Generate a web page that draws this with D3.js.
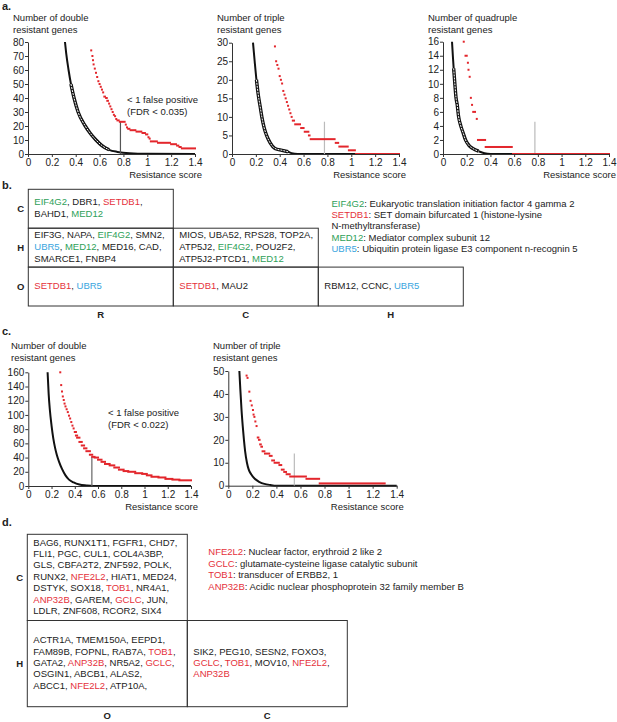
<!DOCTYPE html>
<html>
<head>
<meta charset="utf-8">
<script src="https://cdn.jsdelivr.net/npm/d3@7"></script>
<style>
  body { margin: 0; background: #fff; }
  svg { font-family: "Liberation Sans", Arial, sans-serif; }
</style>
</head>
<body>
<svg width="617" height="722"></svg>
<script>
// ---- data ----
const xTicks = [0, 0.2, 0.4, 0.6, 0.8, 1, 1.2, 1.4];
const xTickLabels = ["0", "0.2", "0.4", "0.6", "0.8", "1", "1.2", "1.4"];

const yTicksA1 = [0, 10, 20, 30, 40, 50, 60, 70, 80];
const yTicksA2 = [0, 5, 10, 15, 20, 25, 30];
const yTicksA3 = [0, 2, 4, 6, 8, 10, 12, 14, 16];
const yTicksC1 = [0, 20, 40, 60, 80, 100, 120, 140, 160];
const yTicksC2 = [0, 10, 20, 30, 40, 50];

// observed genes: [score from, score to, count]
const observedA1 = [
  [0.53, 0.53, 74], [0.54, 0.54, 70], [0.545, 0.545, 67], [0.55, 0.55, 64], [0.56, 0.56, 61],
  [0.57, 0.57, 58], [0.58, 0.58, 55], [0.59, 0.59, 52], [0.6, 0.6, 50], [0.61, 0.61, 48],
  [0.62, 0.62, 46], [0.63, 0.63, 44], [0.64, 0.645, 41], [0.655, 0.66, 40], [0.665, 0.67, 38],
  [0.68, 0.68, 36], [0.69, 0.69, 34], [0.7, 0.7, 32], [0.71, 0.71, 30], [0.72, 0.72, 28],
  [0.73, 0.73, 27], [0.74, 0.74, 25], [0.75, 0.76, 24], [0.77, 0.81, 23], [0.82, 0.82, 21],
  [0.83, 0.83, 19], [0.84, 0.85, 18], [0.86, 0.9, 17], [0.91, 0.95, 16], [0.96, 0.98, 15],
  [0.99, 1.0, 14], [1.01, 1.01, 12], [1.02, 1.02, 11], [1.03, 1.08, 9], [1.09, 1.19, 8],
  [1.2, 1.24, 7], [1.25, 1.26, 6], [1.27, 1.28, 5], [1.29, 1.4, 4]
];
const observedA2 = [
  [0.36, 0.36, 29], [0.37, 0.37, 25], [0.38, 0.38, 24], [0.39, 0.39, 23], [0.4, 0.4, 21],
  [0.41, 0.41, 20], [0.42, 0.42, 19], [0.43, 0.43, 17], [0.44, 0.44, 16], [0.45, 0.45, 15],
  [0.46, 0.46, 14], [0.47, 0.47, 13], [0.48, 0.48, 12], [0.49, 0.49, 11], [0.5, 0.5, 10],
  [0.51, 0.52, 9], [0.53, 0.57, 8], [0.58, 0.6, 7], [0.61, 0.64, 6], [0.645, 0.65, 5],
  [0.66, 0.86, 4], [0.87, 0.89, 3], [0.9, 0.97, 2], [0.98, 1.03, 1], [1.04, 1.4, 0]
];
const observedA3 = [
  [0.175, 0.175, 16], [0.19, 0.2, 14], [0.21, 0.21, 13], [0.215, 0.215, 12], [0.225, 0.225, 11],
  [0.235, 0.235, 8], [0.245, 0.245, 7], [0.255, 0.27, 6], [0.285, 0.285, 5], [0.295, 0.355, 2],
  [0.36, 0.58, 1], [0.59, 1.4, 0]
];
const observedC1 = [
  [0.275, 0.275, 160], [0.283, 0.283, 142], [0.29, 0.29, 133], [0.297, 0.297, 126], [0.305, 0.305, 121],
  [0.312, 0.312, 116], [0.32, 0.32, 112], [0.33, 0.33, 108], [0.34, 0.34, 104], [0.35, 0.35, 99],
  [0.36, 0.36, 95], [0.37, 0.37, 90], [0.38, 0.38, 85], [0.39, 0.39, 81], [0.4, 0.41, 76],
  [0.41, 0.42, 71], [0.42, 0.44, 68], [0.44, 0.46, 62], [0.46, 0.48, 57], [0.48, 0.5, 53],
  [0.5, 0.53, 49], [0.53, 0.55, 44], [0.55, 0.57, 41], [0.57, 0.6, 40], [0.6, 0.63, 37],
  [0.63, 0.66, 34], [0.66, 0.7, 31], [0.7, 0.74, 29], [0.74, 0.78, 26], [0.78, 0.82, 23],
  [0.82, 0.86, 21], [0.86, 0.92, 20], [0.92, 0.98, 18], [0.98, 1.02, 17], [1.02, 1.06, 15],
  [1.06, 1.12, 13], [1.12, 1.18, 12], [1.18, 1.24, 10], [1.24, 1.3, 9], [1.3, 1.4, 8]
];
const observedC2 = [
  [0.152, 0.152, 48], [0.16, 0.16, 47], [0.175, 0.175, 41], [0.185, 0.185, 37], [0.195, 0.195, 35],
  [0.205, 0.205, 33], [0.21, 0.21, 31], [0.217, 0.217, 30], [0.225, 0.225, 28], [0.235, 0.235, 26],
  [0.245, 0.25, 21], [0.255, 0.26, 20], [0.265, 0.27, 18], [0.275, 0.28, 17], [0.285, 0.3, 15],
  [0.305, 0.34, 14], [0.345, 0.36, 13], [0.365, 0.38, 11], [0.385, 0.42, 10], [0.425, 0.44, 9],
  [0.445, 0.46, 7], [0.465, 0.48, 6], [0.485, 0.51, 5], [0.515, 0.645, 4], [0.65, 0.755, 3],
  [0.76, 1.3, 1]
];

// permuted (null) curves: [score, count]
const nullA1 = [[0.31, 80], [0.32, 72], [0.34, 60], [0.36, 50], [0.386, 40], [0.42, 30], [0.48, 20],
  [0.52, 15], [0.57, 10], [0.62, 6], [0.68, 3], [0.75, 1.5], [0.85, 0.5], [1.0, 0.1], [1.4, 0]];
const nullA2 = [[0.176, 30], [0.19, 25], [0.205, 20], [0.22, 16], [0.235, 13], [0.25, 10], [0.27, 7],
  [0.29, 5], [0.32, 3], [0.36, 1.5], [0.42, 1], [0.47, 0.6], [0.5, 0.2], [0.55, 0], [1.4, 0]];
const nullA3 = [[0.076, 16], [0.083, 14], [0.09, 12.2], [0.1, 10], [0.11, 8], [0.12, 7], [0.13, 5.5],
  [0.15, 4], [0.17, 3], [0.19, 2], [0.22, 1.2], [0.25, 0.8], [0.3, 0.4], [0.35, 0.1], [0.4, 0], [1.4, 0]];
const nullC1 = [[0.166, 160], [0.175, 130], [0.185, 108], [0.2, 85], [0.215, 67], [0.23, 54], [0.245, 44],
  [0.265, 34], [0.29, 24], [0.32, 15], [0.35, 9], [0.39, 5], [0.44, 2], [0.5, 0.7], [0.56, 0], [1.4, 0]];
const nullC2 = [[0.092, 50], [0.1, 42], [0.11, 33], [0.12, 26], [0.13, 20], [0.14, 15], [0.155, 10],
  [0.17, 7], [0.19, 5], [0.22, 3], [0.26, 1.6], [0.3, 0.8], [0.35, 0.3], [0.4, 0], [1.4, 0]];

// false-positive cut-offs: [score, line top]
const cutA = [[0.775, 23], [0.775, 8.7], [0.775, 4.6]];
const cutC = [[0.547, 41], [0.549, 14]];

// gene tables
const tableBRows = ["C", "H", "O"];
const tableBCols = ["R", "C", "H"];
const tableBCells = [
  { row: "C", col: "R", lines: ["EIF4G2, DBR1, SETDB1,", "BAHD1, MED12"] },
  { row: "H", col: "R", lines: ["EIF3G, NAPA, EIF4G2, SMN2,", "UBR5, MED12, MED16, CAD,", "SMARCE1, FNBP4"] },
  { row: "H", col: "C", lines: ["MIOS, UBA52, RPS28, TOP2A,", "ATP5J2, EIF4G2, POU2F2,", "ATP5J2-PTCD1, MED12"] },
  { row: "O", col: "R", lines: ["SETDB1, UBR5"] },
  { row: "O", col: "C", lines: ["SETDB1, MAU2"] },
  { row: "O", col: "H", lines: ["RBM12, CCNC, UBR5"] }
];
const legendB = [
  "EIF4G2: Eukaryotic translation initiation factor 4 gamma 2",
  "SETDB1: SET domain bifurcated 1 (histone-lysine",
  "N-methyltransferase)",
  "MED12: Mediator complex subunit 12",
  "UBR5: Ubiquitin protein ligase E3 component n-recognin 5"
];
const highlightB = { EIF4G2: "#2e9f58", MED12: "#2e9f58", SETDB1: "#e5313b", UBR5: "#3aa5de" };

const tableDRows = ["C", "H"];
const tableDCols = ["O", "C"];
const tableDCells = [
  { row: "C", col: "O", lines: ["BAG6, RUNX1T1, FGFR1, CHD7,", "FLI1, PGC, CUL1, COL4A3BP,", "GLS, CBFA2T2, ZNF592, POLK,",
    "RUNX2, NFE2L2, HIAT1, MED24,", "DSTYK, SOX18, TOB1, NR4A1,", "ANP32B, GAREM, GCLC, JUN,", "LDLR, ZNF608, RCOR2, SIX4"] },
  { row: "H", col: "O", lines: ["ACTR1A, TMEM150A, EEPD1,", "FAM89B, FOPNL, RAB7A, TOB1,", "GATA2, ANP32B, NR5A2, GCLC,",
    "OSGIN1, ABCB1,  ALAS2,", "ABCC1, NFE2L2, ATP10A,"] },
  { row: "H", col: "C", lines: ["SIK2, PEG10, SESN2, FOXO3,", "GCLC, TOB1, MOV10, NFE2L2,", "ANP32B"] }
];
const legendD = [
  "NFE2L2: Nuclear factor, erythroid 2 like 2",
  "GCLC: glutamate-cysteine ligase catalytic subunit",
  "TOB1: transducer of ERBB2, 1",
  "ANP32B: Acidic nuclear phosphoprotein 32 family member B"
];
const highlightD = { NFE2L2: "#e5313b", GCLC: "#e5313b", TOB1: "#e5313b", ANP32B: "#e5313b" };

// ---- drawing ----
const FONT = '"Liberation Sans", Arial, sans-serif';
const TXT = "#222";
const RED = "#e3262c";
const svg = d3.select("svg");

function label(x, y, s, opts = {}) {
  return svg.append("text")
      .attr("x", x).attr("y", y).attr("dy", "0.35em")
      .attr("text-anchor", opts.anchor || "start")
      .style("font-size", (opts.size || 9.5) + "px")
      .style("font-weight", opts.bold ? "bold" : "normal")
      .style("fill", TXT)
      .text(s);
}

function drawChart(cfg) {
  const x = d3.scaleLinear().domain([0, 1.4]).range([cfg.x0, cfg.x1]);
  const y = d3.scaleLinear().domain([0, cfg.yticks[cfg.yticks.length - 1]]).range([cfg.y0, cfg.yTop]);
  const g = svg.append("g");
  const line = d3.line().x(d => x(d[0])).y(d => y(d[1])).curve(d3.curveMonotoneX);

  // permuted curves: solid in the steep part, hollow band in the middle
  g.append("path").datum(cfg.nul)
      .attr("d", line).attr("fill", "none")
      .attr("stroke", "#111").attr("stroke-width", 2);
  if (cfg.band) {
    const mid = cfg.nul.filter(d => d[1] <= cfg.band[1] && d[1] >= cfg.band[0]);
    g.append("path").datum(mid)
        .attr("d", line).attr("fill", "none")
        .attr("stroke", "#111").attr("stroke-width", 3.4);
    g.append("path").datum(mid)
        .attr("d", line).attr("fill", "none")
        .attr("stroke", "#fff").attr("stroke-width", 1)
        .attr("stroke-dasharray", "2,1");
  }

  g.append("line")
      .attr("x1", x(cfg.cut[0])).attr("x2", x(cfg.cut[0]))
      .attr("y1", y(0)).attr("y2", y(cfg.cut[1]))
      .attr("stroke", cfg.cutColor).attr("stroke-width", 1.2);

  g.selectAll("rect.obs").data(cfg.obs).join("rect")
      .attr("class", "obs")
      .attr("x", d => x(d[0]) - 1)
      .attr("width", d => x(d[1]) - x(d[0]) + 2)
      .attr("y", d => y(d[2]) - 1)
      .attr("height", 2)
      .attr("fill", RED);

  const ax = g.append("g").attr("transform", `translate(0,${cfg.y0})`)
      .call(d3.axisBottom(x).tickValues(xTicks).tickFormat((d, i) => xTickLabels[i]).tickSize(3).tickSizeOuter(0).tickPadding(2));
  const ay = g.append("g").attr("transform", `translate(${cfg.x0},0)`)
      .call(d3.axisLeft(y).tickValues(cfg.yticks).tickSize(3).tickSizeOuter(0).tickPadding(1));
  [ax, ay].forEach(a => {
    a.attr("font-family", FONT).attr("font-size", 10);
    a.selectAll("text").style("fill", TXT);
    a.selectAll("path,line").attr("stroke", "#333");
  });

  label(cfg.titleX, cfg.titleY, cfg.title[0]);
  label(cfg.titleX, cfg.titleY + 12, cfg.title[1]);
  label(cfg.x1 + 7, cfg.y0 + 21, "Resistance score", { anchor: "end" });
  if (cfg.note) {
    label(cfg.noteX, cfg.noteY, "< 1 false positive");
    label(cfg.noteX, cfg.noteY + 12, cfg.note);
  }
}

drawChart({ x0: 28, x1: 195, y0: 154, yTop: 42, yticks: yTicksA1, obs: observedA1, nul: nullA1,
  band: [3, 50], cut: cutA[0], cutColor: "#555", title: ["Number of double", "resistant genes"],
  titleX: 13, titleY: 18, note: "(FDR < 0.035)", noteX: 127, noteY: 100 });
drawChart({ x0: 232, x1: 399, y0: 154, yTop: 42.7, yticks: yTicksA2, obs: observedA2, nul: nullA2,
  band: [0.6, 20], cut: cutA[1], cutColor: "#bbb", title: ["Number of triple", "resistant genes"],
  titleX: 217, titleY: 18 });
drawChart({ x0: 443, x1: 609, y0: 154, yTop: 41.7, yticks: yTicksA3, obs: observedA3, nul: nullA3,
  band: [0.4, 12.2], cut: cutA[2], cutColor: "#bbb", title: ["Number of quadruple", "resistant genes"],
  titleX: 428, titleY: 18 });
drawChart({ x0: 28.3, x1: 191, y0: 486, yTop: 372.3, yticks: yTicksC1, obs: observedC1, nul: nullC1,
  band: null, cut: cutC[0], cutColor: "#666", title: ["Number of double", "resistant genes"],
  titleX: 11, titleY: 346, note: "(FDR < 0.022)", noteX: 108, noteY: 413 });
drawChart({ x0: 228.3, x1: 396.7, y0: 485.7, yTop: 371, yticks: yTicksC2, obs: observedC2, nul: nullC2,
  band: null, cut: cutC[1], cutColor: "#bbb", title: ["Number of triple", "resistant genes"],
  titleX: 213, titleY: 346 });

// panel letters
label(2, 6, "a.", { size: 11, bold: true });
label(2, 185.5, "b.", { size: 11, bold: true });
label(2, 331.5, "c.", { size: 11, bold: true });
label(2, 522, "d.", { size: 11, bold: true });

function coloredLine(x, y, s, colors) {
  const t = svg.append("text").attr("x", x).attr("y", y).attr("dy", "0.35em")
      .style("font-size", "9.5px").style("fill", TXT);
  s.split(/([A-Za-z0-9-]+)/).filter(p => p.length).forEach(p => {
    t.append("tspan").text(p).style("fill", colors[p] || TXT);
  });
}

function drawTable(cfg) {
  const cx = d3.scaleBand().domain(cfg.cols).range([cfg.left, cfg.left + cfg.colW * cfg.cols.length]);
  const ry = d3.scaleBand().domain(cfg.rows).range([cfg.top, cfg.bottom]);
  cfg.cells.forEach(c => {
    svg.append("rect")
        .attr("x", cx(c.col)).attr("y", ry(c.row))
        .attr("width", cx.bandwidth()).attr("height", ry.bandwidth())
        .attr("fill", "none").attr("stroke", "#333").attr("stroke-width", 1);
    const mid = ry(c.row) + ry.bandwidth() / 2 - 1;
    const first = mid - (c.lines.length - 1) * cfg.lh / 2;
    c.lines.forEach((l, i) => coloredLine(cx(c.col) + 6, first + i * cfg.lh, l, cfg.colors));
  });
  cfg.rows.forEach(r => label(cfg.left - 7.5, ry(r) + ry.bandwidth() / 2, r, { anchor: "middle", bold: true }));
  cfg.cols.forEach(c => label(cx(c) + cx.bandwidth() / 2, cfg.bottom + 8.5, c, { anchor: "middle", bold: true }));
}

drawTable({ rows: tableBRows, cols: tableBCols, cells: tableBCells, colors: highlightB,
  left: 28.3, colW: 145, top: 189.3, bottom: 306, lh: 11.6 });
legendB.forEach((l, i) => coloredLine(331.5, 203.3 + i * 11.4, l, highlightB));

drawTable({ rows: tableDRows, cols: tableDCols, cells: tableDCells, colors: highlightD,
  left: 27.3, colW: 160, top: 534.3, bottom: 706.7, lh: 11.4 });
legendD.forEach((l, i) => coloredLine(208.3, 551.7 + i * 11.5, l, highlightD));
</script>
</body>
</html>
